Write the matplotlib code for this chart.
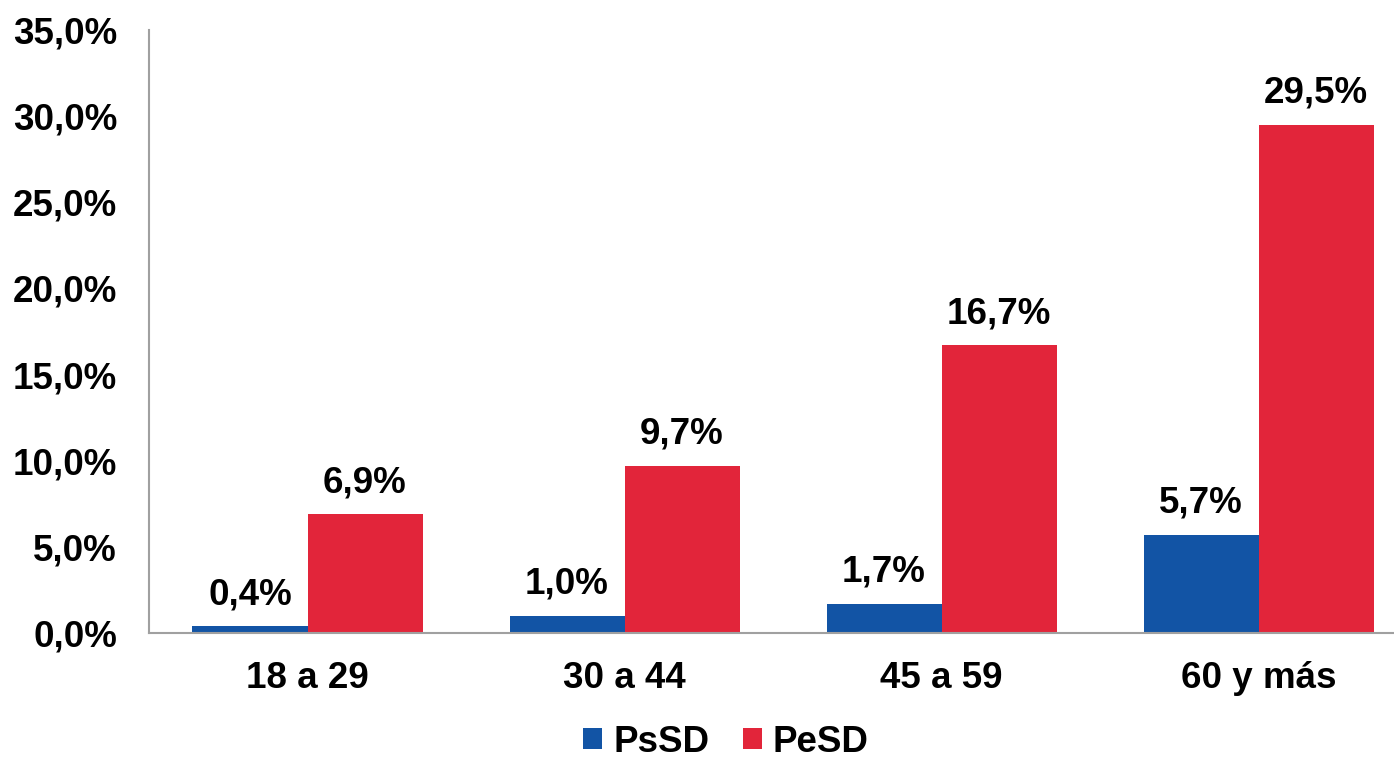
import matplotlib
matplotlib.use("Agg")
import matplotlib.pyplot as plt
import numpy as np

categories = ["18 a 29", "30 a 44", "45 a 59", "60 y más"]
psd = [0.4, 1.0, 1.7, 5.7]
pesd = [6.9, 9.7, 16.7, 29.5]
series_names = ["PsSD", "PeSD"]
yticks = [0, 5, 10, 15, 20, 25, 30, 35]

blue = "#1254A5"
red = "#E2253A"

plt.rcParams['font.family'] = ['Liberation Sans', 'DejaVu Sans']
fs = 26.5

fig = plt.figure(figsize=(13.94, 7.57), dpi=100)
ax = fig.add_axes([149/1394, 1-633/757, (1417-149)/1394, (633-30)/757])

x = np.arange(len(categories))
w = 115/317
b1 = ax.bar(x - w/2, psd, w, color=blue, label=series_names[0])
b2 = ax.bar(x + w/2, pesd, w, color=red, label=series_names[1])

for bars, vals in ((b1, psd), (b2, pesd)):
    for r, v in zip(bars, vals):
        ax.annotate(f"{v:.1f}%".replace(".", ","), (r.get_x() + r.get_width()/2, v),
                    xytext=(0, 10), textcoords="offset points", ha="center", va="bottom",
                    fontsize=fs, fontweight="bold")

ax.set_xlim(-0.5, 3.5)
ax.set_ylim(0, 35)
ax.set_yticks(yticks)
ax.set_yticklabels([f"{t:.1f}%".replace(".", ",") for t in yticks], fontsize=fs, fontweight="bold")
ax.set_xticks(x)
ax.set_xticklabels(categories, fontsize=fs, fontweight="bold")
ax.tick_params(axis="y", length=0, pad=23)
ax.tick_params(axis="x", length=0, pad=20)
for s in ["top", "right"]:
    ax.spines[s].set_visible(False)
for s in ["left", "bottom"]:
    ax.spines[s].set_color("#A0A0A0")
    ax.spines[s].set_linewidth(1.5)

leg = fig.legend(handles=[b1, b2], labels=series_names, loc="center", bbox_to_anchor=(726/1394, 1-742/757),
                 ncol=2, frameon=False, prop={"size": fs, "weight": "bold"},
                 handlelength=0.52, handleheight=0.52, handletextpad=0.3, columnspacing=0.9)

fig.savefig("out.png", dpi=100)
